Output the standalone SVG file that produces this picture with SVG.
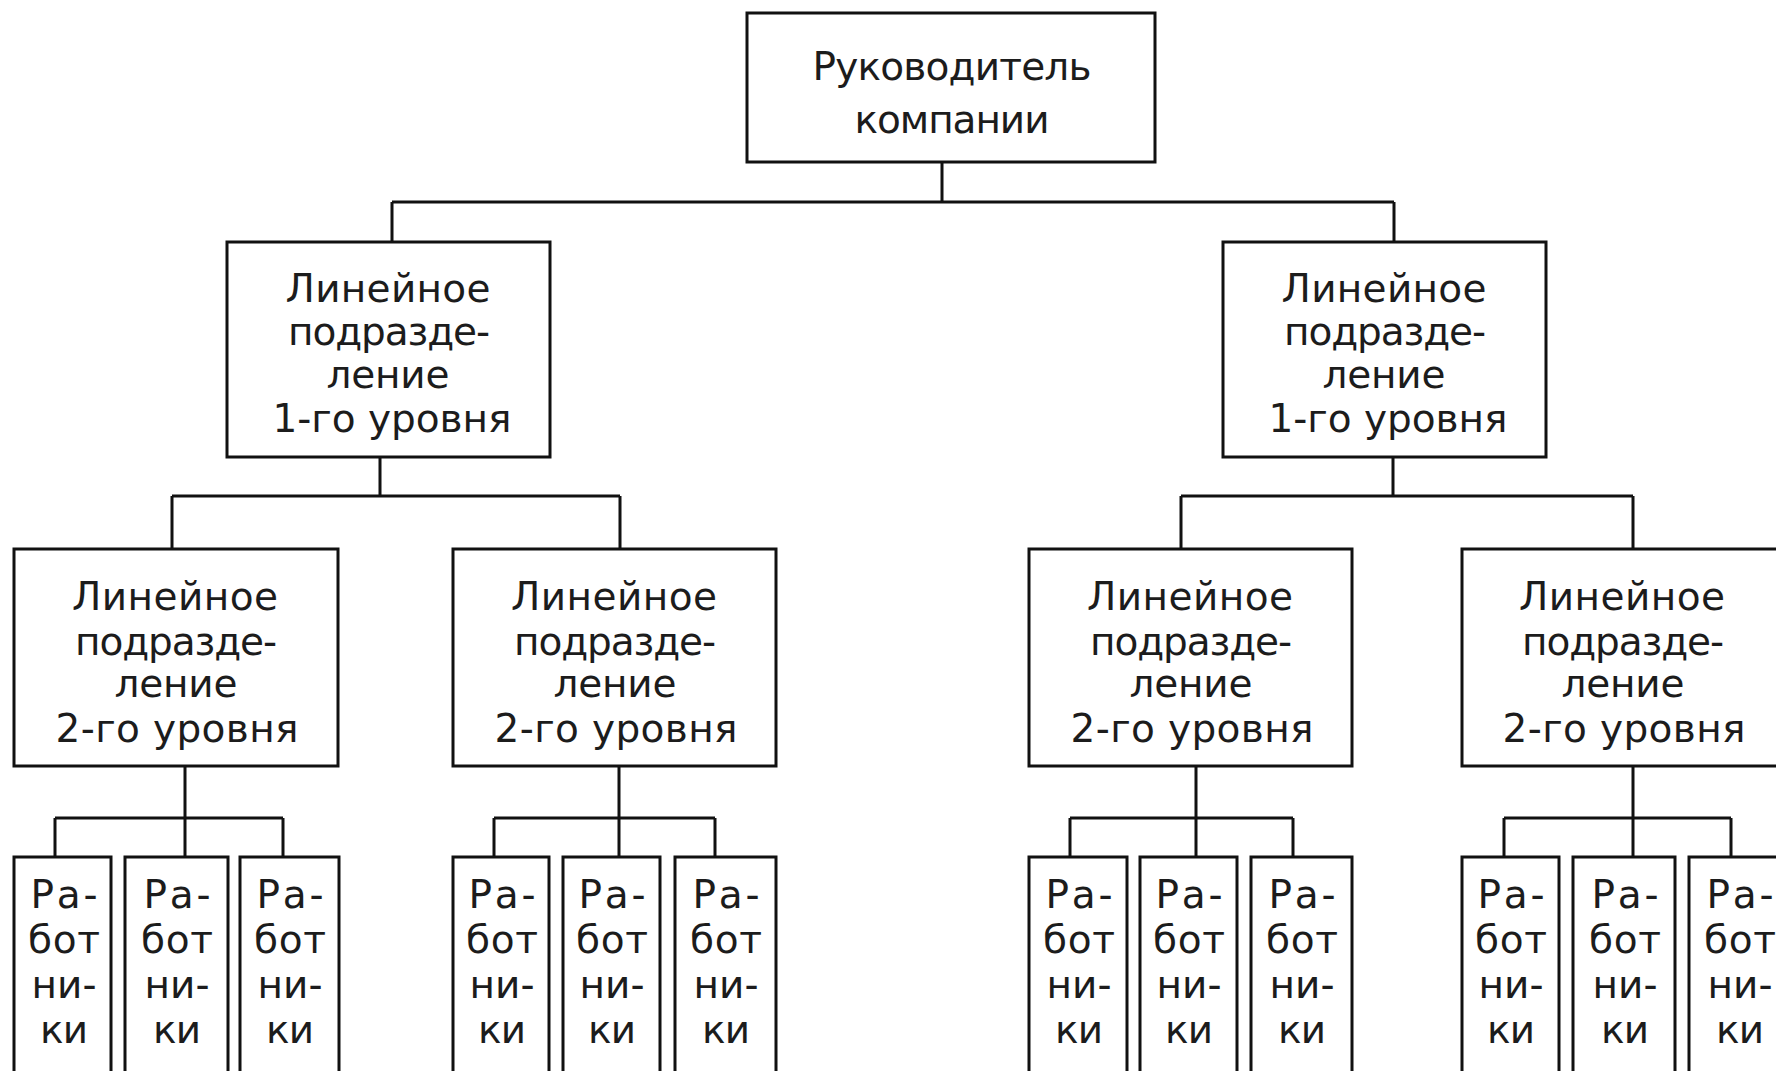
<svg xmlns="http://www.w3.org/2000/svg" width="1776" height="1071" viewBox="0 0 1776 1071">
<style>
.box{fill:#fff;stroke:#111;stroke-width:3}
.ln{fill:none;stroke:#111;stroke-width:3}
text{font-family:"DejaVu Sans","Noto Sans",sans-serif;font-size:39px;fill:#1c1c1c;text-anchor:middle}
</style>
<rect width="1776" height="1071" fill="#fff"/>
<g id="connectors">
<path class="ln" d="M942 162V202M392 202H1394M392 202V242M1394 202V242"/>
<path class="ln" d="M380 457V496M172 496H620M172 496V549M620 496V549"/>
<path class="ln" d="M1393 457V496M1181 496H1633M1181 496V549M1633 496V549"/>
<path class="ln" d="M185 766V818M55 818H283M55 818V857M185 818V857M283 818V857"/>
<path class="ln" d="M619 766V818M494 818H715M494 818V857M619 818V857M715 818V857"/>
<path class="ln" d="M1196 766V818M1070 818H1293M1070 818V857M1196 818V857M1293 818V857"/>
<path class="ln" d="M1633 766V818M1504 818H1731M1504 818V857M1633 818V857M1731 818V857"/>
</g>
<g id="top">
<rect class="box" x="747" y="13" width="408" height="149"/>
<text x="952" y="80" textLength="279" lengthAdjust="spacing">Руководитель</text>
<text x="952" y="133" textLength="195" lengthAdjust="spacing">компании</text>
</g>
<g id="l1a">
<rect class="box" x="227" y="242" width="323" height="215"/>
<text x="388" y="302" textLength="205" lengthAdjust="spacing">Линейное</text>
<text x="389" y="345" textLength="202" lengthAdjust="spacing">подразде-</text>
<text x="388" y="388" textLength="123" lengthAdjust="spacing">ление</text>
<text x="392" y="432" textLength="239" lengthAdjust="spacing">1-го уровня</text>
</g>
<g id="l1b">
<rect class="box" x="1223" y="242" width="323" height="215"/>
<text x="1384" y="302" textLength="205" lengthAdjust="spacing">Линейное</text>
<text x="1385" y="345" textLength="202" lengthAdjust="spacing">подразде-</text>
<text x="1384" y="388" textLength="123" lengthAdjust="spacing">ление</text>
<text x="1388" y="432" textLength="239" lengthAdjust="spacing">1-го уровня</text>
</g>
<g id="l2a">
<rect class="box" x="14" y="549" width="324" height="217"/>
<text x="175" y="610" textLength="206" lengthAdjust="spacing">Линейное</text>
<text x="176" y="655" textLength="202" lengthAdjust="spacing">подразде-</text>
<text x="176" y="697" textLength="123" lengthAdjust="spacing">ление</text>
<text x="177" y="742" textLength="243" lengthAdjust="spacing">2-го уровня</text>
</g>
<g id="l2b">
<rect class="box" x="453" y="549" width="323" height="217"/>
<text x="614" y="610" textLength="206" lengthAdjust="spacing">Линейное</text>
<text x="615" y="655" textLength="202" lengthAdjust="spacing">подразде-</text>
<text x="615" y="697" textLength="123" lengthAdjust="spacing">ление</text>
<text x="616" y="742" textLength="243" lengthAdjust="spacing">2-го уровня</text>
</g>
<g id="l2c">
<rect class="box" x="1029" y="549" width="323" height="217"/>
<text x="1190" y="610" textLength="206" lengthAdjust="spacing">Линейное</text>
<text x="1191" y="655" textLength="202" lengthAdjust="spacing">подразде-</text>
<text x="1191" y="697" textLength="123" lengthAdjust="spacing">ление</text>
<text x="1192" y="742" textLength="243" lengthAdjust="spacing">2-го уровня</text>
</g>
<g id="l2d">
<rect class="box" x="1462" y="549" width="324" height="217"/>
<text x="1622" y="610" textLength="206" lengthAdjust="spacing">Линейное</text>
<text x="1623" y="655" textLength="202" lengthAdjust="spacing">подразде-</text>
<text x="1623" y="697" textLength="123" lengthAdjust="spacing">ление</text>
<text x="1624" y="742" textLength="243" lengthAdjust="spacing">2-го уровня</text>
</g>
<defs>
<g id="wt">
<text x="0" y="908" textLength="67" lengthAdjust="spacing">Ра-</text>
<text x="0" y="953" textLength="72" lengthAdjust="spacing">бот</text>
<text x="0" y="998" textLength="65" lengthAdjust="spacing">ни-</text>
<text x="0" y="1043" textLength="48" lengthAdjust="spacing">ки</text>
</g>
</defs>
<g id="w1"><rect class="box" x="14" y="857" width="97" height="240"/><use href="#wt" x="64"/></g>
<g id="w2"><rect class="box" x="125" y="857" width="103" height="240"/><use href="#wt" x="177"/></g>
<g id="w3"><rect class="box" x="240" y="857" width="99" height="240"/><use href="#wt" x="290"/></g>
<g id="w4"><rect class="box" x="453" y="857" width="96" height="240"/><use href="#wt" x="502"/></g>
<g id="w5"><rect class="box" x="563" y="857" width="97" height="240"/><use href="#wt" x="612"/></g>
<g id="w6"><rect class="box" x="675" y="857" width="101" height="240"/><use href="#wt" x="726"/></g>
<g id="w7"><rect class="box" x="1029" y="857" width="98" height="240"/><use href="#wt" x="1079"/></g>
<g id="w8"><rect class="box" x="1140" y="857" width="97" height="240"/><use href="#wt" x="1189"/></g>
<g id="w9"><rect class="box" x="1251" y="857" width="101" height="240"/><use href="#wt" x="1302"/></g>
<g id="w10"><rect class="box" x="1462" y="857" width="97" height="240"/><use href="#wt" x="1511"/></g>
<g id="w11"><rect class="box" x="1573" y="857" width="102" height="240"/><use href="#wt" x="1625"/></g>
<g id="w12"><rect class="box" x="1689" y="857" width="100" height="240"/><use href="#wt" x="1740"/></g>
</svg>
